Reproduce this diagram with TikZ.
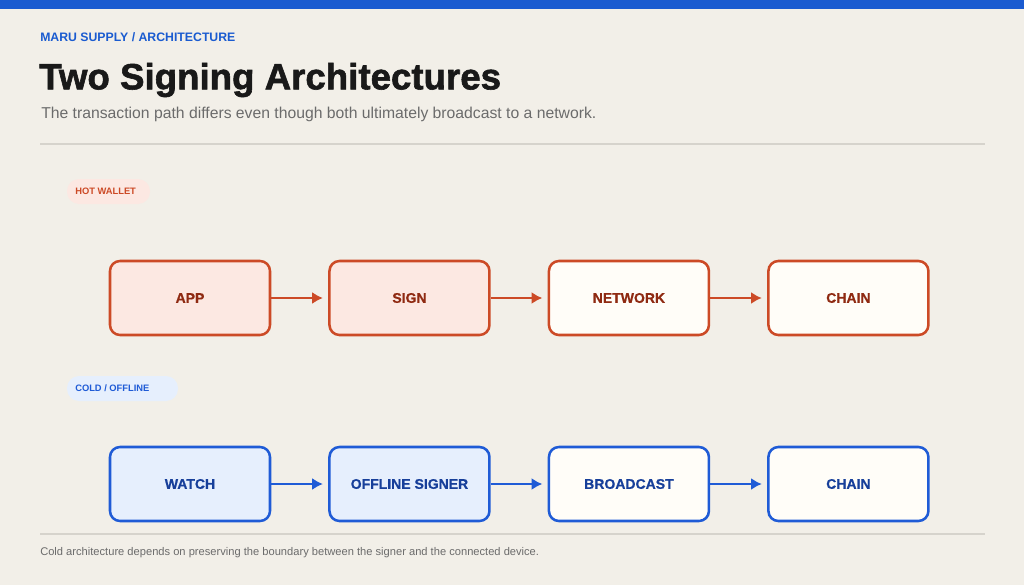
\documentclass[tikz,border=0pt]{standalone}
\usepackage{fontspec}
\setmainfont{Liberation Sans}
\newfontfamily\heavyfont[BoldFeatures={FakeBold=1.6}]{Liberation Sans}
\newfontfamily\boxfont[BoldFeatures={FakeBold=0.6}]{Liberation Sans}
\usetikzlibrary{positioning,arrows.meta}
\definecolor{paper}{HTML}{F2EFE8}
\definecolor{topblue}{HTML}{1A5BD0}
\definecolor{hotline}{HTML}{CC4A26}
\definecolor{hotfill}{HTML}{FCE8E2}
\definecolor{hottext}{HTML}{8F2A12}
\definecolor{coldline}{HTML}{1F5BD6}
\definecolor{coldfill}{HTML}{E6EFFD}
\definecolor{coldtext}{HTML}{173F9A}
\definecolor{whitefill}{HTML}{FFFDF8}
\definecolor{rulegray}{HTML}{D6D3CC}
\definecolor{subgray}{HTML}{6B6B6B}
\tikzset{
    stepbox/.style={draw,line width=1.9pt,rounded corners=7.5pt,minimum width=120pt,minimum height=55.5pt,
        font=\boxfont\fontsize{10.5}{12}\selectfont\bfseries,inner sep=0pt},
    hotbox/.style={stepbox,draw=hotline,text=hottext},
    coldbox/.style={stepbox,draw=coldline,text=coldtext},
    hotarrow/.style={->,line width=2.2pt,draw=hotline,shorten >=4pt},
    coldarrow/.style={->,line width=2.2pt,draw=coldline,shorten >=4pt},
    badge/.style={inner sep=0pt,font=\fontsize{7}{8}\selectfont\bfseries,anchor=west}
}
\begin{document}
\begin{tikzpicture}[x=0.75pt,y=-0.75pt,>={Latex[length=8pt,width=9pt]},node distance=42.7pt]
        \fill[paper] (0,0) rectangle (1024,585);
        \useasboundingbox (0,0) rectangle (1024,585);
        \fill[topblue] (0,0) rectangle (1024,9);
        % header
        \node[anchor=west,inner sep=0pt,text=topblue,font=\fontsize{9.2}{11}\selectfont\bfseries] (kicker) at (40,37) {MARU SUPPLY / ARCHITECTURE};
        \node[anchor=west,inner sep=0pt,text=black!90,font=\heavyfont\fontsize{27.5}{30}\selectfont\bfseries] (title) at (39,80) {Two Signing Architectures};
        \node[anchor=west,inner sep=0pt,text=subgray,font=\fontsize{11.8}{14}\selectfont] (subtitle) at (41,114) {The transaction path differs even though both ultimately broadcast to a network.};
        \draw[rulegray,line width=0.8pt] (40,144)--(985,144);
        % hot wallet
        \begin{scope}
            \fill[hotfill,rounded corners=9pt] (67,179) rectangle (150,204);
            \node[badge,text=hotline] (hotlabel) at (75,191) {HOT WALLET};
            \node[hotbox,fill=hotfill] (app) at (190,298) {APP};
            \node[hotbox,fill=hotfill,right=of app] (sign) {SIGN};
            \node[hotbox,fill=whitefill,right=of sign] (network) {NETWORK};
            \node[hotbox,fill=whitefill,right=of network] (hotchain) {CHAIN};
            \draw[hotarrow] (app)--(sign);
            \draw[hotarrow] (sign)--(network);
            \draw[hotarrow] (network)--(hotchain);
        \end{scope}
        % cold / offline
        \begin{scope}
            \fill[coldfill,rounded corners=9pt] (67,376) rectangle (178,401);
            \node[badge,text=coldline] (coldlabel) at (75,388) {COLD / OFFLINE};
            \node[coldbox,fill=coldfill] (watch) at (190,484) {WATCH};
            \node[coldbox,fill=coldfill,right=of watch] (signer) {OFFLINE SIGNER};
            \node[coldbox,fill=whitefill,right=of signer] (broadcast) {BROADCAST};
            \node[coldbox,fill=whitefill,right=of broadcast] (coldchain) {CHAIN};
            \draw[coldarrow] (watch)--(signer);
            \draw[coldarrow] (signer)--(broadcast);
            \draw[coldarrow] (broadcast)--(coldchain);
        \end{scope}
        % footer
        \draw[rulegray,line width=0.8pt] (40,534)--(985,534);
        \node[anchor=west,inner sep=0pt,text=subgray,font=\fontsize{8.35}{10}\selectfont] (footnote) at (40,553) {Cold architecture depends on preserving the boundary between the signer and the connected device.};
    \end{tikzpicture}
\end{document}
